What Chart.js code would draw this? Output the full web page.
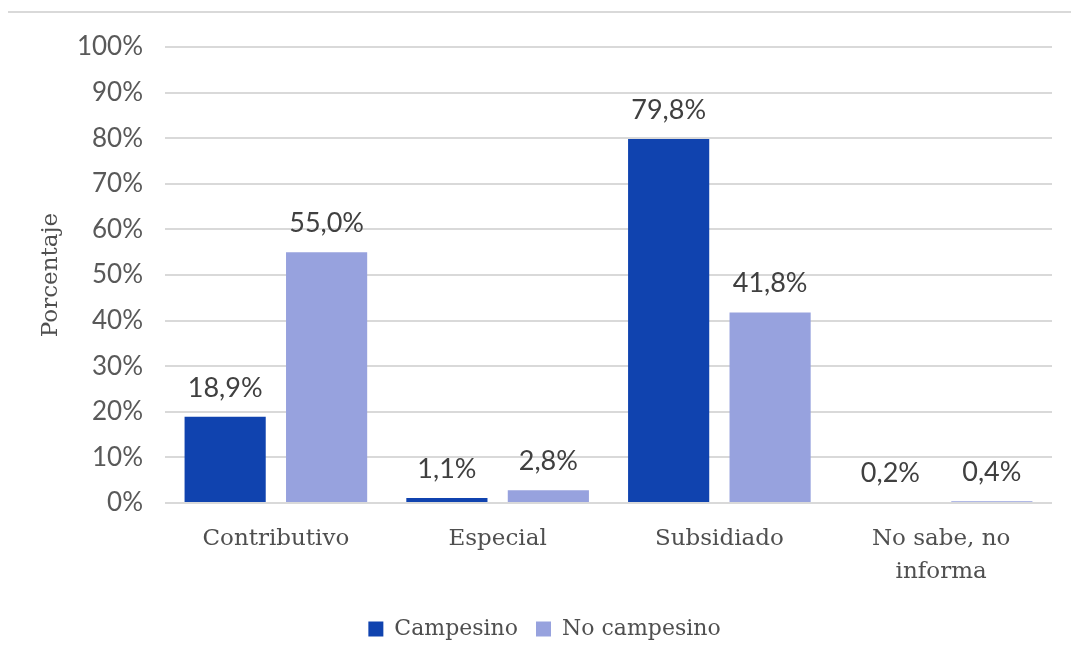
<!DOCTYPE html>
<html>
<head>
<meta charset="utf-8">
<script src="https://cdn.jsdelivr.net/npm/chart.js@4"></script>
<style>
  html, body { margin: 0; padding: 0; background: #fff; }
  #wrap { position: relative; width: 1071px; height: 663px; }
  #frame { position: absolute; top: 11px; left: 8px; right: 0; border-top: 2px solid #d9d9d9; }
</style>
</head>
<body>
<div id="wrap">
  <div id="frame"></div>
  <canvas id="chart" width="1071" height="663"></canvas>
</div>
<script>
// Data
const categories = ['Contributivo', 'Especial', 'Subsidiado', ['No sabe, no', 'informa']];
const campesino = [18.9, 1.1, 79.8, 0.2];
const noCampesino = [55.0, 2.8, 41.8, 0.4];
const seriesNames = ['Campesino', 'No campesino'];

const textColor = '#4f4f4f';
const serif = "'DejaVu Serif', 'Liberation Serif', serif";
const sans = "Lato, 'Liberation Sans', sans-serif";

// Draw the value labels above each bar
const valueLabels = {
  id: 'valueLabels',
  afterDatasetsDraw(chart) {
    const ctx = chart.ctx;
    ctx.save();
    ctx.font = '27px ' + sans;
    ctx.fillStyle = '#404040';
    ctx.textAlign = 'center';
    ctx.textBaseline = 'middle';
    chart.data.datasets.forEach((ds, i) => {
      chart.getDatasetMeta(i).data.forEach((bar, j) => {
        const label = ds.data[j].toFixed(1).replace('.', ',') + '%';
        ctx.fillText(label, bar.x, bar.y - 29);
      });
    });
    ctx.restore();
  }
};

const chart = new Chart(document.getElementById('chart'), {
  type: 'bar',
  data: {
    labels: categories,
    datasets: [
      { label: seriesNames[0], data: campesino, backgroundColor: '#1043af' },
      { label: seriesNames[1], data: noCampesino, backgroundColor: '#97a2de' },
    ],
  },
  options: {
    responsive: false,
    animation: false,
    categoryPercentage: 0.915,
    barPercentage: 0.8,
    layout: { padding: { top: 47, right: 19, left: 37, bottom: 13 } },
    scales: {
      x: {
        grid: { display: false },
        border: { display: false },
        ticks: {
          color: textColor,
          font: { family: serif, size: 23, lineHeight: 1.45 },
          padding: 11,
          maxRotation: 0,
        },
        afterFit(scale) { scale.height = 97; },
      },
      y: {
        min: 0,
        max: 100,
        grid: { color: '#d9d9d9', lineWidth: 2, drawTicks: false },
        border: { display: false },
        ticks: {
          stepSize: 10,
          color: '#595959',
          font: { family: sans, size: 26 },
          padding: 22,
          callback: (v) => v + '%',
        },
        title: {
          display: true,
          text: 'Porcentaje',
          color: textColor,
          font: { family: serif, size: 23 },
          padding: 0,
        },
        afterFit(scale) { scale.width = 128; },
      },
    },
    plugins: {
      legend: {
        position: 'bottom',
        labels: {
          color: textColor,
          font: { family: serif, size: 22 },
          boxWidth: 15,
          boxHeight: 15,
          padding: 18,
        },
      },
      tooltip: { enabled: false },
    },
  },
  plugins: [valueLabels],
});
</script>
</body>
</html>
